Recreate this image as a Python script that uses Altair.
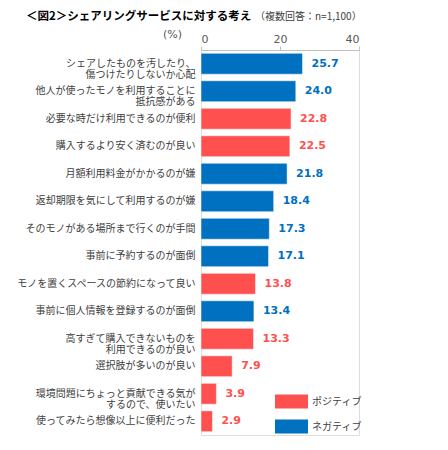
import altair as alt
import pandas as pd

labels = [
    "シェアしたものを汚したり、|傷つけたりしないか心配",
    "他人が使ったモノを利用することに|抵抗感がある",
    "必要な時だけ利用できるのが便利",
    "購入するより安く済むのが良い",
    "月額利用料金がかかるのが嫌",
    "返却期限を気にして利用するのが嫌",
    "そのモノがある場所まで行くのが手間",
    "事前に予約するのが面倒",
    "モノを置くスペースの節約になって良い",
    "事前に個人情報を登録するのが面倒",
    "高すぎて購入できないものを|利用できるのが良い",
    "選択肢が多いのが良い",
    "環境問題にちょっと貢献できる気が|するので、使いたい",
    "使ってみたら想像以上に便利だった",
]
values = [25.7, 24.0, 22.8, 22.5, 21.8, 18.4, 17.3, 17.1, 13.8, 13.4, 13.3, 7.9, 3.9, 2.9]
kinds = ["ネガティブ", "ネガティブ", "ポジティブ", "ポジティブ", "ネガティブ", "ネガティブ",
         "ネガティブ", "ネガティブ", "ポジティブ", "ネガティブ", "ポジティブ", "ポジティブ",
         "ポジティブ", "ポジティブ"]
legend_names = ["ポジティブ", "ネガティブ"]
colors = ["#FF5050", "#0070C0"]
x_ticks = [0, 20, 40]

df = pd.DataFrame({"label": labels, "value": values, "kind": kinds})
df["text"] = df["value"].map(lambda v: f"{v:.1f}")

jp = "Noto Sans CJK JP"
num = "DejaVu Sans"

color = alt.Color(
    "kind:N",
    scale=alt.Scale(domain=legend_names, range=colors),
    legend=alt.Legend(
        title=None, orient="none", legendX=74, legendY=335,
        symbolType="M-1,-0.42H1V0.42H-1Z", symbolSize=1089,
        symbolStrokeWidth=0, labelFont=jp, labelFontSize=10, labelColor="#404040",
        rowPadding=1, labelOffset=4,
    ),
)

y = alt.Y(
    "label:N", sort=None, title=None,
    scale=alt.Scale(paddingInner=0.24, paddingOuter=0.12),
    axis=alt.Axis(
        labelExpr="split(datum.label, '|')", labelFont=jp, labelFontSize=10,
        labelColor="#404040", labelLineHeight=11, ticks=False, domain=False,
        labelPadding=6, labelLimit=300,
    ),
)
x = alt.X(
    "value:Q", title=None,
    scale=alt.Scale(domain=[0, 40], nice=False),
    axis=alt.Axis(
        orient="top", values=x_ticks, grid=False, labelFont=num, labelFontSize=11,
        labelColor="#595959", domainColor="#bfbfbf", tickColor="#bfbfbf",
        tickSize=4, labelPadding=2,
    ),
)

bars = alt.Chart(df).mark_bar(stroke="#ffffff", strokeOpacity=0.5, strokeWidth=1).encode(
    x=x, y=y, color=color
)
texts = alt.Chart(df).mark_text(
    align="left", baseline="middle", dx=9, font=num, fontSize=11, fontWeight="bold"
).encode(x="value:Q", y=alt.Y("label:N", sort=None), text="text:N", color=alt.Color("kind:N", legend=None))

annot = pd.DataFrame({"t": ["＜図2＞シェアリングサービスに対する考え"]})
title = alt.Chart(annot).mark_text(
    align="left", baseline="middle", font=jp, fontSize=11.5, fontWeight="bold", color="#000000"
).encode(text="t:N", x=alt.value(-175), y=alt.value(-33))
annot2 = pd.DataFrame({"t": ["（複数回答：n=1,100）"]})
sub = alt.Chart(annot2).mark_text(
    align="left", baseline="middle", font=jp, fontSize=10, color="#404040"
).encode(text="t:N", x=alt.value(54), y=alt.value(-33))
annot3 = pd.DataFrame({"t": ["(%)"]})
pct = alt.Chart(annot3).mark_text(
    align="left", baseline="middle", font=num, fontSize=11, color="#595959"
).encode(text="t:N", x=alt.value(-38), y=alt.value(-15))

chart = alt.layer(bars, texts, title, sub, pct).properties(
    width=158, height=385,
    autosize=alt.AutoSizeParams(type="none"),
    padding={"left": 193, "top": 42, "right": 80, "bottom": 10},
).configure_view(stroke=None).configure(background="white")

chart.save("out.html", embed_options={"renderer": "svg", "actions": False})
